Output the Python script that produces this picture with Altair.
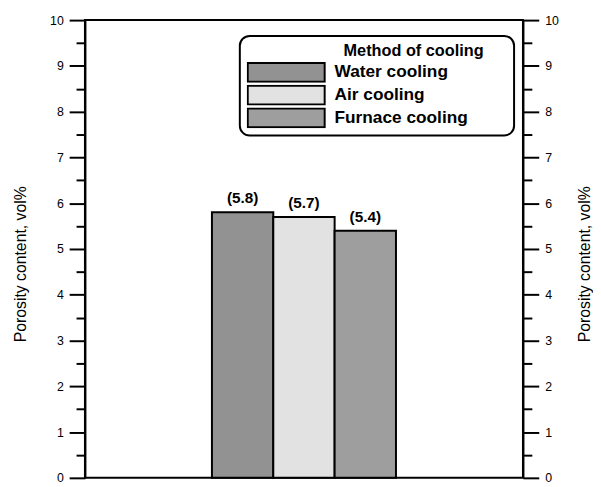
import altair as alt
import pandas as pd

methods = ["Water cooling", "Air cooling", "Furnace cooling"]
porosity = [5.8, 5.7, 5.4]
labels = ["(5.8)", "(5.7)", "(5.4)"]
fills = ["#929292", "#e2e2e2", "#9e9e9e"]
group = ["all", "all", "all"]

df = pd.DataFrame({"group": group, "method": methods, "porosity": porosity, "label": labels})

FONT = "Arial, Liberation Sans"
NB = "\u00a0"
ZW = "\u200b"

x = alt.X("group:N", scale=alt.Scale(paddingInner=0, paddingOuter=0.69), axis=None)
xo = alt.XOffset("method:N", sort=methods, scale=alt.Scale(paddingInner=0, paddingOuter=0))
yscale = alt.Scale(domain=[0, 10], nice=False, zero=True)
tick_vals = [i * 0.5 for i in range(21)]

def yaxis(orient, tpad):
    return alt.Axis(
        orient=orient, values=tick_vals,
        labelExpr="datum.value % 1 ? '' : format(datum.value, 'd')",
        tickSize={"condition": {"test": "datum.value % 1 !== 0", "value": 9}, "value": 16},
        tickColor="black", tickWidth=2, domainColor="black", domainWidth=2,
        grid=False, labelFont=FONT, labelFontSize=12.5, labelColor="black",
        labelPadding=6, title="Porosity content, vol%", titleFont=FONT,
        titleFontSize=16, titleFontWeight="normal", titleColor="black",
        titleAngle=270, titlePadding=tpad, titleY=247,
    )

bars = alt.Chart(df).mark_bar(stroke="black", strokeWidth=2).encode(
    x=x,
    xOffset=xo,
    y=alt.Y("porosity:Q", scale=yscale, axis=yaxis("left", 21)),
    fill=alt.Fill("method:N", sort=methods,
                  scale=alt.Scale(domain=methods, range=fills),
                  legend=alt.Legend(
                      title="Method of cooling" + NB * 5 + ZW, orient="none",
                      legendX=157, legendY=16,
                      titleAnchor="end", titleFont=FONT, titleFontSize=16.5,
                      titleFontWeight="bold", titleColor="black", titlePadding=3,
                      labelFont=FONT, labelFontSize=17.5, labelFontWeight="bold",
                      labelColor="black", labelOffset=9, labelLimit=400,
                      labelExpr="datum.label + '" + NB * 8 + ZW + "'",
                      symbolType="M-1,-0.2436H1V0.2436H-1Z", symbolSize=6084,
                      symbolStrokeColor="black", symbolStrokeWidth=2,
                      symbolOpacity=1, clipHeight=21,
                      strokeColor="black", cornerRadius=10, padding=7,
                      rowPadding=2,
                  )),
)

text = alt.Chart(df).mark_text(
    baseline="alphabetic", dy=-9, font=FONT, fontSize=15.5, fontWeight="bold", color="black"
).encode(
    x=x,
    xOffset=xo,
    y=alt.Y("porosity:Q", scale=yscale, axis=yaxis("right", 35)),
    text="label:N",
)

chart = alt.layer(bars, text).resolve_axis(y="independent").properties(
    width=444, height=464,
    autosize=alt.AutoSizeParams(type="none"),
    padding={"left": 78, "top": 9, "right": 71, "bottom": 6},
).configure_view(stroke="black", strokeWidth=2).configure_legend(strokeWidth=2)

chart.save("out.html", embed_options={"renderer": "svg", "actions": False})
